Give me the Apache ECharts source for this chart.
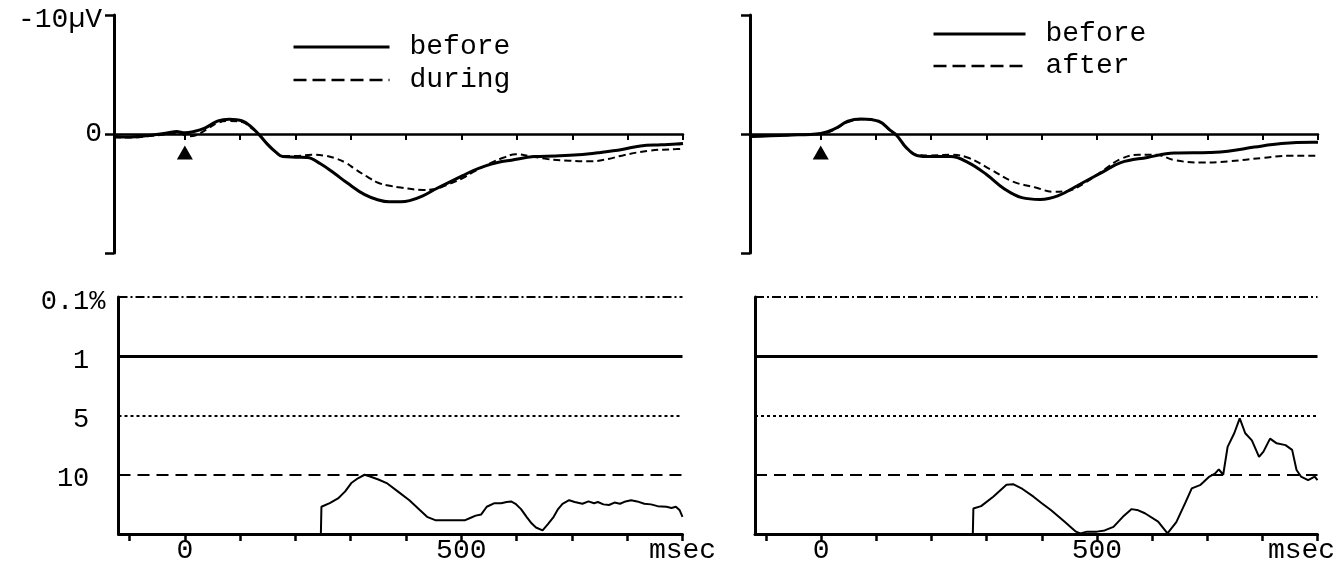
<!DOCTYPE html>
<html>
<head>
<meta charset="utf-8">
<script src="https://cdn.jsdelivr.net/npm/echarts@6/dist/echarts.min.js"></script>
<style>
html, body { margin: 0; padding: 0; background: #fff; }
#chart { width: 1341px; height: 569px; }
</style>
</head>
<body>
<div id="chart"></div>
<script>
// ERP waveforms: time (msec) / amplitude (µV, negative drawn upward)
const leftBeforeMs = [-128, -100, -60, -30, -15, 0, 15, 36, 60, 80, 104, 120, 133, 149, 165, 177, 200, 221, 245, 270, 293, 325, 350, 369, 390, 406, 430, 454, 480, 502, 520, 542, 565, 590, 631, 670, 711, 751, 790, 823, 860, 888, 900];
const leftBeforeUv = [0.2, 0.25, 0.1, -0.1, -0.2, -0.1, -0.2, -0.5, -1.1, -1.25, -1.1, -0.6, 0, 0.85, 1.55, 1.9, 1.95, 1.97, 2.5, 3.3, 4.1, 5.1, 5.55, 5.7, 5.7, 5.6, 5.2, 4.6, 4.0, 3.5, 3.1, 2.7, 2.4, 2.2, 1.9, 1.85, 1.75, 1.55, 1.3, 1.0, 0.9, 0.85, 0.8];
const leftDuringMs = [-128, -100, -60, -30, -10, 5, 20, 40, 60, 80, 104, 120, 135, 150, 165, 177, 200, 229, 250, 269, 290, 309, 330, 349, 370, 390, 430, 450, 462, 480, 502, 525, 550, 575, 598, 622, 655, 695, 735, 765, 791, 839, 888, 900];
const leftDuringUv = [0.3, 0.3, 0.15, 0, -0.1, 0.2, 0.1, -0.4, -0.95, -1.1, -1.0, -0.5, 0.05, 0.9, 1.55, 1.85, 1.85, 1.75, 1.8, 2.0, 2.4, 3.0, 3.6, 4.1, 4.35, 4.5, 4.7, 4.65, 4.5, 4.15, 3.7, 3.1, 2.5, 2.0, 1.7, 1.85, 2.1, 2.25, 2.3, 2.1, 1.8, 1.4, 1.27, 1.25];
const rightBeforeMs = [-128, -60, 0, 24, 49, 73, 105, 126, 138, 154, 174, 200, 235, 267, 300, 332, 364, 397, 429, 470, 510, 543, 591, 640, 704, 737, 785, 834, 891, 900];
const rightBeforeUv = [0.2, 0.1, -0.05, -0.4, -1.07, -1.27, -1.07, -0.3, 0.14, 1.1, 1.8, 1.9, 1.9, 2.4, 3.4, 4.6, 5.35, 5.5, 5.2, 4.2, 3.2, 2.4, 1.97, 1.6, 1.55, 1.45, 1.1, 0.8, 0.7, 0.7];
const rightAfterMs = [-128, -60, 0, 24, 49, 73, 105, 126, 138, 154, 174, 200, 235, 267, 308, 348, 389, 421, 445, 478, 510, 543, 575, 607, 640, 688, 737, 802, 850, 895, 900];
const rightAfterUv = [0.2, 0.1, 0, -0.35, -1.0, -1.25, -1.05, -0.3, 0.14, 1.1, 1.75, 1.8, 1.75, 2.0, 3.0, 4.0, 4.5, 4.85, 4.8, 4.1, 3.1, 2.1, 1.75, 1.75, 2.2, 2.4, 2.3, 2.0, 1.83, 1.83, 1.83];

// stimulus onset marker (the small triangle)
const onsetMs = [0];
const onsetUv = [1.55];

// significance traces: 0 = n.s., 1 = 10%, 2 = 5%, 3 = 1%, 4 = 0.1%
const leftSigMs = [246, 247, 262, 277, 290, 301, 313, 325, 335, 350, 365, 385, 406, 422, 438, 454, 480, 506, 516, 526, 536, 546, 560, 572, 582, 590, 598, 608, 618, 627, 635, 647, 657, 667, 675, 683, 695, 705, 719, 730, 740, 747, 757, 767, 777, 787, 797, 807, 818, 831, 843, 855, 871, 880, 888, 895, 900];
const leftSigVal = [0, 0.46, 0.52, 0.6, 0.72, 0.86, 0.94, 1.0, 0.97, 0.92, 0.86, 0.72, 0.57, 0.43, 0.29, 0.23, 0.23, 0.23, 0.27, 0.31, 0.33, 0.46, 0.52, 0.52, 0.54, 0.55, 0.51, 0.42, 0.29, 0.18, 0.11, 0.06, 0.17, 0.29, 0.42, 0.51, 0.57, 0.54, 0.51, 0.55, 0.52, 0.54, 0.5, 0.49, 0.53, 0.51, 0.55, 0.57, 0.55, 0.51, 0.5, 0.47, 0.46, 0.44, 0.46, 0.4, 0.29];
const rightSigMs = [275, 276, 290, 312, 336, 348, 365, 385, 400, 417, 441, 462, 470, 482, 500, 514, 530, 547, 563, 575, 587, 611, 628, 644, 660, 672, 688, 704, 714, 721, 729, 737, 749, 759, 769, 781, 794, 802, 814, 826, 842, 854, 862, 870, 883, 895, 900];
const rightSigVal = [0, 0.43, 0.47, 0.63, 0.83, 0.84, 0.76, 0.63, 0.52, 0.4, 0.21, 0.04, 0.01, 0.04, 0.04, 0.06, 0.12, 0.29, 0.42, 0.4, 0.35, 0.21, 0.01, 0.2, 0.52, 0.77, 0.83, 0.97, 1.02, 1.09, 1.0, 1.47, 1.7, 1.95, 1.7, 1.58, 1.3, 1.39, 1.61, 1.53, 1.5, 1.42, 1.08, 0.97, 0.91, 0.97, 0.91];

const levelPos = [1, 2, 3, 4];
const levelLabels = ['10', '5', '1', '0.1'];

const topTickMs = [0, 100, 200, 300, 400, 500, 600, 700, 800, 900];
const bottomTickMs = [-100, 0, 100, 200, 300, 400, 500, 600, 700, 800, 900];
const bottomLabelMs = [0, 500, 900];

const mono = '"Liberation Mono", "DejaVu Sans Mono", monospace';
const ink = '#000';

function pairs(xs, ys) {
  return xs.map((x, i) => [x, ys[i]]);
}

// threshold lines, one style per level
const levelStyles = {
  1: { type: [12, 7], width: 2 },
  2: { type: [3, 3], width: 2 },
  3: { type: 'solid', width: 3 },
  4: { type: [9, 3, 2, 3], width: 2 }
};
function thresholdLines() {
  return {
    silent: true,
    symbol: ['none', 'none'],
    label: { show: false },
    animation: false,
    data: levelPos.map(p => ({ yAxis: p, lineStyle: Object.assign({ color: ink }, levelStyles[p]) }))
  };
}

function topX(grid) {
  return {
    type: 'value', gridIndex: grid, min: -128, max: 900,
    axisLine: { onZero: true, lineStyle: { color: ink, width: 2.5 } },
    axisTick: { show: true, customValues: topTickMs, length: 6, lineStyle: { color: ink, width: 2 } },
    axisLabel: { show: false },
    splitLine: { show: false }
  };
}
function topY(grid, labels) {
  return {
    type: 'value', gridIndex: grid, min: -10, max: 10, interval: 10, inverse: true,
    axisLine: { show: true, onZero: false, lineStyle: { color: ink, width: 3 } },
    axisTick: { show: true, length: 9, lineStyle: { color: ink, width: 2.5 } },
    axisLabel: {
      show: labels, margin: 12, color: ink, fontFamily: mono, fontSize: 28,
      formatter: v => v === -10 ? '{t|-10µV}' : (v === 0 ? '0' : ''),
      rich: { t: { fontFamily: mono, fontSize: 28, color: ink, padding: [9, 0, 0, 0] } }
    },
    splitLine: { show: false }
  };
}
function bottomX(grid, msecPad) {
  return {
    type: 'value', gridIndex: grid, min: -120, max: 900,
    axisLine: { onZero: false, lineStyle: { color: ink, width: 3 } },
    axisTick: { show: true, customValues: bottomTickMs, length: 7, lineStyle: { color: ink, width: 2.5 } },
    axisLabel: {
      customValues: bottomLabelMs, margin: 3, color: ink, fontFamily: mono, fontSize: 28,
      showMinLabel: true, showMaxLabel: true, hideOverlap: false,
      formatter: v => v === 900 ? '{m|msec}' : String(v),
      rich: { m: { fontFamily: mono, fontSize: 28, color: ink, padding: [0, msecPad, 0, 0] } }
    },
    splitLine: { show: false }
  };
}
function bottomY(grid, labels) {
  return {
    type: 'value', gridIndex: grid, min: 0, max: 4, interval: 1,
    axisLine: { show: true, onZero: false, lineStyle: { color: ink, width: 3 } },
    axisTick: { show: false },
    axisLabel: {
      show: labels, margin: 13, color: ink, fontFamily: mono, fontSize: 27, padding: [9, 0, 0, 0],
      formatter: v => {
        const i = levelPos.indexOf(v);
        if (i < 0) return '';
        return '{a|' + levelLabels[i] + '}' + (v === 4 ? '{p|%}' : '{h|%}');
      },
      rich: {
        a: { fontFamily: mono, fontSize: 27, color: ink },
        p: { fontFamily: mono, fontSize: 27, color: ink },
        h: { fontFamily: mono, fontSize: 27, color: 'rgba(0,0,0,0)' }
      }
    },
    splitLine: { show: false }
  };
}
function erp(name, idx, data, dashed) {
  return {
    name: name, type: 'line', xAxisIndex: idx, yAxisIndex: idx,
    data: data, symbol: 'none', smooth: 0.4,
    lineStyle: dashed ? { color: ink, width: 2, type: [7, 4] } : { color: ink, width: 3 },
    itemStyle: { color: ink }
  };
}
function legendBox(solidName, dashName, left, top, width, gap) {
  return {
    data: [
      { name: solidName, lineStyle: { color: ink, width: 3, type: 'solid' } },
      { name: dashName, lineStyle: { color: ink, width: 2.5, type: [13, 6] } }
    ],
    left: left, top: top, orient: 'vertical',
    itemWidth: width, itemHeight: 20, itemGap: gap, selectedMode: false,
    itemStyle: { opacity: 0, borderWidth: 0 },
    textStyle: { fontFamily: mono, fontSize: 28, lineHeight: 28, color: ink, padding: [0, 0, 0, 15] }
  };
}
function onsetMark(idx) {
  return {
    type: 'scatter', xAxisIndex: idx, yAxisIndex: idx, data: pairs(onsetMs, onsetUv),
    symbol: 'triangle', symbolSize: [16, 14], itemStyle: { color: ink, opacity: 1 }, silent: true
  };
}

const chart = echarts.init(document.getElementById('chart'));
chart.setOption({
  animation: false,
  backgroundColor: '#fff',
  grid: [
    { left: 114, top: 15, width: 569, height: 238, outerBoundsMode: 'none' },
    { left: 750, top: 15, width: 568, height: 238, outerBoundsMode: 'none' },
    { left: 118.5, top: 297, width: 564, height: 237, outerBoundsMode: 'none' },
    { left: 755, top: 297, width: 562.5, height: 237, outerBoundsMode: 'none' }
  ],
  xAxis: [topX(0), topX(1), bottomX(2, 0), bottomX(3, 32)],
  yAxis: [topY(0, true), topY(1, false), bottomY(2, true), bottomY(3, false)],
  legend: [
    legendBox('before', 'during', 287, 28, 96, 5),
    legendBox('before', 'after', 927, 15, 92, 4)
  ],
  series: [
    erp('before', 0, pairs(leftBeforeMs, leftBeforeUv), false),
    erp('during', 0, pairs(leftDuringMs, leftDuringUv), true),
    erp('before', 1, pairs(rightBeforeMs, rightBeforeUv), false),
    erp('after', 1, pairs(rightAfterMs, rightAfterUv), true),
    onsetMark(0),
    onsetMark(1),
    {
      type: 'line', xAxisIndex: 2, yAxisIndex: 2, data: pairs(leftSigMs, leftSigVal),
      symbol: 'none', lineStyle: { color: ink, width: 2 }, markLine: thresholdLines()
    },
    {
      type: 'line', xAxisIndex: 3, yAxisIndex: 3, data: pairs(rightSigMs, rightSigVal),
      symbol: 'none', lineStyle: { color: ink, width: 2 }, markLine: thresholdLines()
    }
  ]
});
</script>
</body>
</html>
